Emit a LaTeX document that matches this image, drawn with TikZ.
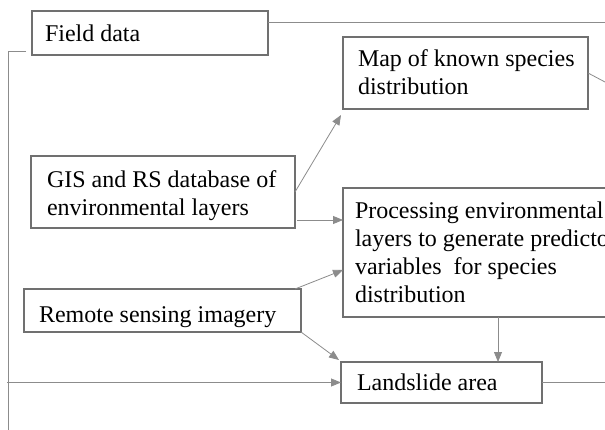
\documentclass[tikz,border=0pt]{standalone}
\usepackage{fontspec}
\setmainfont{Liberation Serif}
\usetikzlibrary{arrows.meta}
\definecolor{boxgray}{HTML}{707070}
\definecolor{linegray}{HTML}{8C8C8C}
\newcommand\mlines[1]{\begin{tabular}[t]{@{}l@{}}#1\end{tabular}}
\begin{document}
\begin{tikzpicture}[x=1pt,y=-1pt,
  boxnode/.style={draw=boxgray, line width=1.3pt, rectangle, inner sep=0pt, outer sep=0pt},
  txt/.style={anchor=base west, inner sep=0pt, outer sep=0pt, font=\fontsize{24}{28}\selectfont, text=black},
  ln/.style={draw=linegray, line width=0.8pt},
  arr/.style={ln, -{Triangle[length=10pt,width=8pt]}, color=linegray}
]
\useasboundingbox (0,0) rectangle (605,430);
\clip (0,0) rectangle (605,430);
\fill[white] (0,0) rectangle (605,430);

% boxes
\node[boxnode, minimum width=236pt, minimum height=44pt] (field) at (150,33) {};
\node[boxnode, minimum width=245pt, minimum height=72pt] (map) at (465.5,73) {};
\node[boxnode, minimum width=264pt, minimum height=72pt] (gis) at (163,192) {};
\node[boxnode, minimum width=297pt, minimum height=129pt] (proc) at (491.5,252.5) {};
\node[boxnode, minimum width=277pt, minimum height=43pt] (remote) at (162.5,310.5) {};
\node[boxnode, minimum width=201pt, minimum height=41pt] (land) at (441.5,382.5) {};

% texts
\node[txt] (fieldt) at (45,42) {Field data};
\node[txt] (mapt) at (358,67) {\mlines{Map of known species\\distribution}};
\node[txt] (gist) at (47,188) {\mlines{GIS and RS database of\\environmental layers}};
\node[txt] (proct) at (355,219) {\mlines{Processing environmental\\layers to generate predictor\\variables\ \ for species\\distribution}};
\node[txt] (remotet) at (39,323) {Remote sensing imagery};
\node[txt] (landt) at (357,390) {Landslide area};

% free ends
\coordinate (fr) at (605,22);
\coordinate (lstart) at (26,51);
\coordinate (lcorner) at (8,51);
\coordinate (lbottom) at (8,430);
\coordinate (lh) at (7,382.5);
\coordinate (landr) at (605,382.5);
\coordinate (mapr) at (605,82);
\coordinate (mapin) at (341,115);
\coordinate (procin1) at (343,220);
\coordinate (gisout2) at (297,220);
\coordinate (procin2) at (343,270);
\coordinate (remout1) at (295,289);
\coordinate (landin1) at (339,360);
\coordinate (procout) at (498,317);
\coordinate (landin2) at (498,362);

% connectors
\draw[ln] (field.east |- fr) -- (fr);
\draw[ln] (lstart) -- (lcorner) -- (lbottom);
\draw[arr] (lh) -- (land.west);
\draw[ln] (land.east) -- (landr);
\draw[ln] (map.east) -- (mapr);
\draw[arr] (gis.east) -- (mapin);
\draw[arr] (gisout2) -- (procin1);
\draw[arr] (remout1) -- (procin2);
\draw[arr] (remote.south east) -- (landin1);
\draw[arr] (procout) -- (landin2);
\end{tikzpicture}
\end{document}
